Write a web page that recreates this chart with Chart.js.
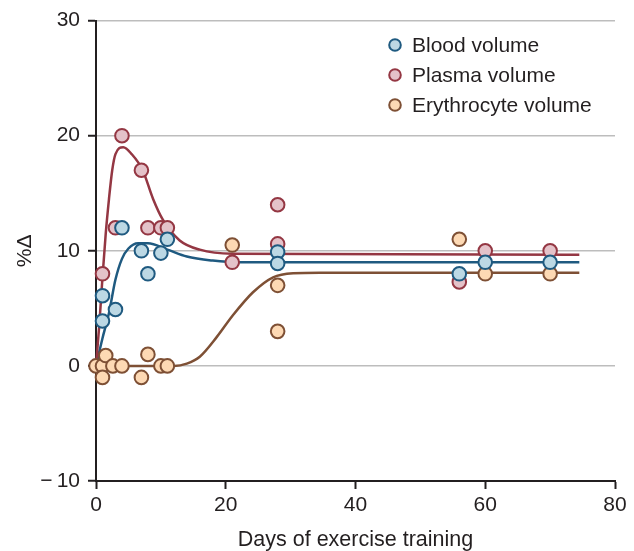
<!DOCTYPE html>
<html>
<head>
<meta charset="utf-8">
<script src="https://cdn.jsdelivr.net/npm/chart.js@4/dist/chart.umd.min.js"></script>
<style>
    html, body { margin: 0; padding: 0; background: #fff; }
    #wrap { width: 634px; height: 551px; }
</style>
</head>
<body>
<div id="wrap"><canvas id="volume-chart" width="634" height="551"></canvas></div>
<script>
// Measured changes (%) by day of training
const bloodDays = [1, 1, 3, 4, 7, 8, 10, 11, 28, 28, 56, 60, 70];
const bloodValues = [6.1, 3.9, 4.9, 12, 10, 8, 9.8, 11, 9.9, 8.9, 8, 9, 9];

const plasmaDays = [1, 3, 4, 7, 8, 10, 11, 21, 28, 28, 56, 60, 70];
const plasmaValues = [8, 12, 20, 17, 12, 12, 12, 9, 14, 10.6, 7.3, 10, 10];

const erythDays = [0, 1, 1.5, 1, 2.6, 4, 7, 8, 10, 11, 21, 28, 28, 56, 60, 70];
const erythValues = [0, 0, 0.9, -1, 0, 0, -1, 1, 0, 0, 10.5, 7, 3, 11, 8, 8];

// Fitted curves
const bloodCurveDays = [0, 1, 2, 3, 4, 5, 6.5, 8, 11, 14, 18, 22, 74.5];
const bloodCurveValues = [0, 2.4, 4.6, 7.5, 9.3, 10.2, 10.65, 10.65, 10.1, 9.5, 9.15, 9.0, 9.0];

const plasmaCurveDays = [0, 0.5, 1, 1.5, 2, 2.5, 3, 4.2, 5.5, 7.2, 8.8, 10.3, 12.9, 16, 21, 74.5];
const plasmaCurveValues = [0, 3.5, 7.7, 11.5, 14.5, 17, 18.4, 19, 18.4, 17, 14.5, 12.7, 10.9, 10.1, 9.75, 9.65];

const erythCurveDays = [0, 12, 14, 16, 18.6, 21.1, 24.2, 27.3, 30.4, 34.5, 74.5];
const erythCurveValues = [0, 0, 0.2, 0.8, 2.5, 4.4, 6.4, 7.7, 8.05, 8.1, 8.1];

const seriesLabels = ['Blood volume', 'Plasma volume', 'Erythrocyte volume'];
const xTicks = [0, 20, 40, 60, 80];
const yTicks = [-10, 0, 10, 20, 30];

const lineColors = ['#1f5a80', '#943743', '#7e5035'];
const fillColors = ['#bcd8e4', '#e4c2c9', '#fdd9b4'];
const inkColor = '#231f20';
const fontFamily = '"Liberation Sans", Arial, Helvetica, sans-serif';

function toPoints(xs, ys) {
    return xs.map((x, i) => ({ x: x, y: ys[i] }));
}

function pointSet(label, xs, ys, idx, order) {
    return {
        label: label,
        data: toPoints(xs, ys),
        showLine: false,
        pointRadius: 6.8,
        pointBorderWidth: 2,
        pointBackgroundColor: fillColors[idx],
        pointBorderColor: lineColors[idx],
        clip: false,
        order: order
    };
}

function curveSet(xs, ys, idx) {
    return {
        label: '',
        data: toPoints(xs, ys),
        showLine: true,
        fill: false,
        borderColor: lineColors[idx],
        borderWidth: 2.5,
        pointRadius: 0,
        cubicInterpolationMode: 'monotone',
        clip: false,
        order: 10
    };
}

// Legend drawn inside the plot area, top right
const innerLegend = {
    id: 'innerLegend',
    afterDraw(chart) {
        const ctx = chart.ctx;
        ctx.save();
        ctx.font = '21px ' + fontFamily;
        ctx.textBaseline = 'middle';
        ctx.textAlign = 'left';
        seriesLabels.forEach((label, i) => {
            const y = 45 + i * 30;
            ctx.beginPath();
            ctx.arc(395, y, 5.8, 0, Math.PI * 2);
            ctx.fillStyle = fillColors[i];
            ctx.fill();
            ctx.lineWidth = 2;
            ctx.strokeStyle = lineColors[i];
            ctx.stroke();
            ctx.fillStyle = inkColor;
            ctx.fillText(label, 412, y + 1);
        });
        ctx.restore();
    }
};

new Chart(document.getElementById('volume-chart'), {
    type: 'scatter',
    data: {
        datasets: [
            curveSet(plasmaCurveDays, plasmaCurveValues, 1),
            curveSet(bloodCurveDays, bloodCurveValues, 0),
            curveSet(erythCurveDays, erythCurveValues, 2),
            pointSet(seriesLabels[2], erythDays, erythValues, 2, 3),
            pointSet(seriesLabels[1], plasmaDays, plasmaValues, 1, 2),
            pointSet(seriesLabels[0], bloodDays, bloodValues, 0, 1)
        ]
    },
    options: {
        responsive: false,
        animation: false,
        layout: { padding: { top: 20, right: 19, bottom: 0, left: 0 } },
        plugins: {
            legend: { display: false },
            tooltip: { enabled: false }
        },
        scales: {
            x: {
                type: 'linear',
                min: 0,
                max: 80,
                afterFit: scale => { scale.height = 70; },
                afterBuildTicks: scale => { scale.ticks = xTicks.map(v => ({ value: v })); },
                border: { display: true, color: inkColor, width: 2 },
                grid: {
                    drawOnChartArea: false,
                    drawTicks: true,
                    tickLength: 8,
                    tickColor: inkColor,
                    tickWidth: 2
                },
                ticks: {
                    color: inkColor,
                    padding: 4,
                    font: { family: fontFamily, size: 21 }
                },
                title: {
                    display: true,
                    text: 'Days of exercise training',
                    color: inkColor,
                    padding: { top: 0, bottom: 0 },
                    font: { family: fontFamily, size: 21.5, lineHeight: 1 }
                }
            },
            y: {
                type: 'linear',
                min: -10,
                max: 30,
                afterFit: scale => { scale.width = 96; },
                afterBuildTicks: scale => { scale.ticks = yTicks.map(v => ({ value: v })); },
                border: { display: true, color: inkColor, width: 2 },
                grid: {
                    color: ctx => (ctx.tick && ctx.tick.value === -10) ? 'rgba(0,0,0,0)' : '#bdbdbd',
                    lineWidth: 1.5,
                    drawTicks: true,
                    tickLength: 8,
                    tickColor: inkColor,
                    tickWidth: 2
                },
                ticks: {
                    color: inkColor,
                    padding: 8,
                    font: { family: fontFamily, size: 21 },
                    callback: v => v < 0 ? '\u2212\u2009' + Math.abs(v) : String(v)
                },
                title: {
                    display: true,
                    text: '%\u0394',
                    color: inkColor,
                    padding: { top: 15, bottom: 0 },
                    font: { family: fontFamily, size: 21, lineHeight: 1 }
                }
            }
        }
    },
    plugins: [innerLegend]
});
</script>
</body>
</html>
